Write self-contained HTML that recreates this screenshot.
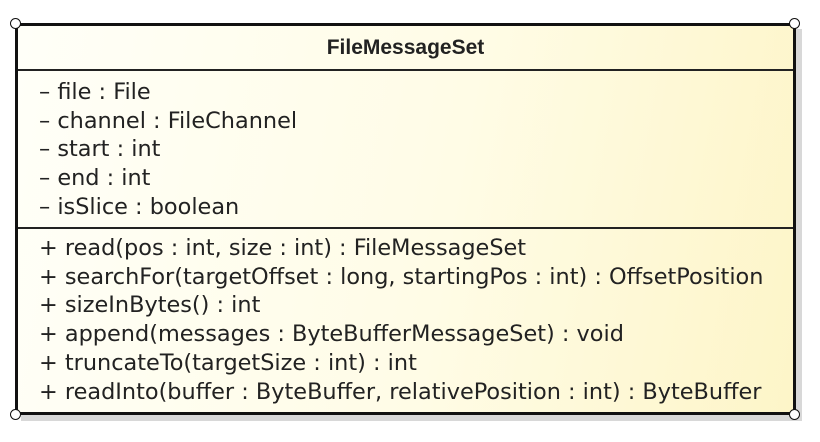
<!DOCTYPE html>
<html><head><style>
body{margin:0;width:820px;height:442px;background:#fff;position:relative;overflow:hidden;font-family:"DejaVu Sans","Liberation Sans",sans-serif;}
.box{position:absolute;left:15px;top:23px;width:775px;height:386px;border:3px solid #111;background:linear-gradient(100deg,#fffff8 0%,#fffce6 55%,#fdf5c8 100%);box-shadow:6px 6px 0 #d8d8d8;}
.hdr{height:43px;border-bottom:2px solid #222;text-align:center;font-weight:bold;font-size:21px;line-height:44px;color:#222;font-family:"Liberation Sans",sans-serif;}
.sec{padding:5px 0 0 21px;font-size:22.4px;color:#222;line-height:28.7px;white-space:nowrap;}
.attr{height:158px;border-bottom:2px solid #222;box-sizing:border-box;padding-top:7px;}
.c{position:absolute;width:9px;height:9px;border:1.5px solid #111;border-radius:50%;background:#fff;}
</style></head><body>
<div class="box">
<div class="hdr">FileMessageSet</div>
<div class="sec attr">– file : File<br>– channel : FileChannel<br>– start : int<br>– end : int<br>– isSlice : boolean</div>
<div class="sec">+ read(pos : int, size : int) : FileMessageSet<br>+ searchFor(targetOffset : long, startingPos : int) : OffsetPosition<br>+ sizeInBytes() : int<br>+ append(messages : ByteBufferMessageSet) : void<br>+ truncateTo(targetSize : int) : int<br>+ readInto(buffer : ByteBuffer, relativePosition : int) : ByteBuffer</div>
</div>
<div class="c" style="left:10px;top:18px"></div>
<div class="c" style="left:789px;top:18px"></div>
<div class="c" style="left:10px;top:409px"></div>
<div class="c" style="left:789px;top:409px"></div>
</body></html>
